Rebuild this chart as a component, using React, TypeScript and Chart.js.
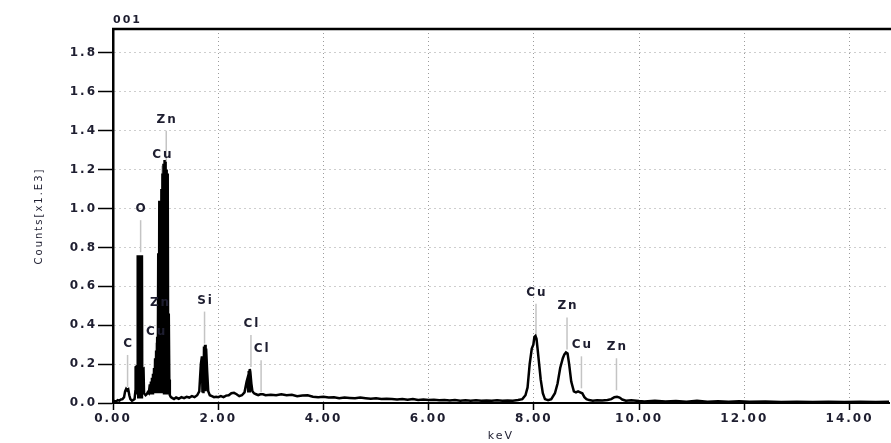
import React, { useEffect, useRef } from 'react';
import { Chart, registerables } from 'chart.js';

Chart.register(...registerables);

// EDS spectrum: energy (keV) vs counts (x1.E3)
const energyKeV = [
  0.00, 0.03, 0.06, 0.09, 0.12, 0.15, 0.18, 0.21, 0.23, 0.25, 0.27, 0.29, 0.31, 0.33, 0.36, 0.38,
  0.41, 0.425, 0.43, 0.455, 0.465, 0.47, 0.48, 0.49, 0.50, 0.51, 0.52, 0.53, 0.54, 0.55, 0.555, 0.58, 0.59, 0.62,
  0.64, 0.66, 0.68, 0.70, 0.71, 0.72, 0.73, 0.74, 0.75, 0.76, 0.77, 0.78, 0.79, 0.80, 0.81, 0.82, 0.83, 0.84, 0.85,
  0.86, 0.87, 0.88, 0.89, 0.90, 0.91, 0.92, 0.93, 0.94, 0.95, 0.96, 0.97, 0.98, 0.99, 1.00, 1.01, 1.02, 1.03,
  1.04, 1.05, 1.06, 1.07, 1.08, 1.10, 1.13,
  1.16, 1.20, 1.25, 1.30, 1.35, 1.40, 1.45, 1.50, 1.55, 1.60, 1.64, 1.67, 1.69, 1.70, 1.71, 1.72, 1.73, 1.74,
  1.75, 1.76, 1.77, 1.79, 1.81, 1.84, 1.88, 1.92, 1.96, 2.00, 2.05, 2.10, 2.15, 2.20, 2.25, 2.30, 2.35, 2.40,
  2.45, 2.50, 2.54, 2.56, 2.57, 2.58, 2.59, 2.60, 2.61, 2.63, 2.65, 2.68, 2.72, 2.76, 2.80, 2.85, 2.90,
  3.00, 3.10, 3.20, 3.30, 3.40, 3.50, 3.60, 3.70, 3.80, 3.90, 4.00, 4.10, 4.20, 4.30, 4.40, 4.50, 4.60, 4.70,
  4.80, 4.90, 5.00, 5.10, 5.20, 5.30, 5.40, 5.50, 5.60, 5.70, 5.80, 5.90, 6.00, 6.10, 6.20, 6.30, 6.40, 6.50,
  6.60, 6.70, 6.80, 6.90, 7.00, 7.10, 7.20, 7.30, 7.40, 7.50, 7.60, 7.70, 7.78, 7.84, 7.88, 7.92, 7.96, 7.99,
  8.01, 8.03, 8.05, 8.07, 8.10, 8.13, 8.17, 8.21, 8.27, 8.33, 8.40, 8.45, 8.50, 8.55, 8.58, 8.61, 8.64, 8.67,
  8.71, 8.76, 8.80, 8.84, 8.88, 8.92, 8.96, 9.00, 9.05, 9.12, 9.20, 9.30, 9.40, 9.47, 9.53, 9.58, 9.63, 9.68,
  9.75, 9.85, 10.0, 10.1, 10.3, 10.5, 10.7, 10.9, 11.1, 11.3, 11.5, 11.7, 11.9, 12.1, 12.4, 12.7, 13.0, 13.3,
  13.6, 13.9, 14.2, 14.5, 14.75,
];

const counts = [
  0.005, 0.010, 0.008, 0.015, 0.012, 0.018, 0.020, 0.030, 0.060, 0.072, 0.065, 0.070, 0.040, 0.020, 0.012, 0.015,
  0.020, 0.060, 0.185, 0.190, 0.050, 0.760, 0.030, 0.760, 0.030, 0.760, 0.030, 0.760, 0.030, 0.760, 0.170, 0.175, 0.050, 0.040,
  0.045, 0.055, 0.050, 0.095, 0.050, 0.110, 0.050, 0.130, 0.050, 0.150, 0.050, 0.180, 0.050, 0.230, 0.050, 0.270, 0.050, 0.340, 0.050,
  0.770, 0.050, 1.040, 0.050, 1.040, 0.050, 1.100, 0.050, 1.180, 0.050, 1.230, 0.050, 1.250, 0.050, 1.240, 0.050, 1.200, 0.050,
  1.180, 0.050, 0.460, 0.120, 0.040, 0.030, 0.025,
  0.020, 0.028, 0.022, 0.030, 0.025, 0.032, 0.028, 0.035, 0.030, 0.040, 0.060, 0.200, 0.240, 0.060, 0.230, 0.050, 0.290, 0.060,
  0.300, 0.060, 0.280, 0.160, 0.060, 0.040, 0.035, 0.030, 0.032, 0.030, 0.035, 0.030, 0.038, 0.040, 0.050, 0.052, 0.045, 0.035,
  0.040, 0.055, 0.110, 0.130, 0.060, 0.165, 0.060, 0.175, 0.160, 0.100, 0.060, 0.050, 0.045, 0.040, 0.045, 0.045, 0.040,
  0.042, 0.040, 0.045, 0.040, 0.042, 0.035, 0.038, 0.040, 0.032, 0.030, 0.032, 0.028, 0.030, 0.025, 0.028, 0.026, 0.024, 0.028,
  0.025, 0.022, 0.024, 0.020, 0.022, 0.020, 0.018, 0.020, 0.017, 0.020, 0.016, 0.018, 0.015, 0.017, 0.014, 0.016, 0.013, 0.015,
  0.012, 0.014, 0.012, 0.014, 0.011, 0.013, 0.012, 0.014, 0.011, 0.013, 0.012, 0.015, 0.020, 0.040, 0.080, 0.200, 0.280, 0.300,
  0.340, 0.345, 0.330, 0.280, 0.200, 0.120, 0.050, 0.020, 0.015, 0.020, 0.050, 0.100, 0.180, 0.230, 0.250, 0.260, 0.255, 0.200,
  0.110, 0.060, 0.055, 0.060, 0.055, 0.050, 0.030, 0.020, 0.015, 0.012, 0.014, 0.013, 0.015, 0.020, 0.030, 0.032, 0.028, 0.018,
  0.012, 0.014, 0.010, 0.008, 0.012, 0.008, 0.010, 0.007, 0.011, 0.007, 0.009, 0.006, 0.009, 0.006, 0.008, 0.005, 0.007, 0.005,
  0.006, 0.005, 0.007, 0.005, 0.006,
];

// Peak identification markers
const peakNames = ['C', 'O', 'Cu', 'Zn', 'Cu', 'Zn', 'Si', 'Cl', 'Cl', 'Cu', 'Zn', 'Cu', 'Zn'];
const peakEnergies = [0.277, 0.525, 0.811, 0.884, 0.930, 1.012, 1.740, 2.622, 2.815, 8.040, 8.630, 8.904, 9.570];
const peakMarkTops = [0.247, 0.94, 0.31, 0.46, 1.22, 1.40, 0.47, 0.35, 0.22, 0.51, 0.44, 0.24, 0.23];

const spectrumTitle = '001';
const xAxisTitle = 'keV';
const yAxisTitle = 'Counts[x1.E3]';

const FONT = '"DejaVu Sans", "Liberation Sans", sans-serif';
const TEXT_COLOR = '#1e1e30';

const frameAndLabels = {
  id: 'frameAndLabels',
  beforeDraw(chart: any) {
    chart.ctx.letterSpacing = '2px';
  },
  beforeDatasetsDraw(chart: any) {
    const { ctx, scales } = chart;
    const x = scales.x;
    const y = scales.y;
    ctx.save();
    ctx.strokeStyle = '#c4c4c4';
    ctx.lineWidth = 1.5;
    peakNames.forEach((_, i) => {
      const px = x.getPixelForValue(peakEnergies[i]);
      const top = y.getPixelForValue(peakMarkTops[i]);
      ctx.beginPath();
      ctx.moveTo(px, top);
      ctx.lineTo(px, top + 32);
      ctx.stroke();
    });
    ctx.restore();
  },
  afterDraw(chart: any) {
    const { ctx, chartArea, scales } = chart;
    const x = scales.x;
    const y = scales.y;
    ctx.save();
    // top frame line
    ctx.strokeStyle = '#000';
    ctx.lineWidth = 2.5;
    ctx.beginPath();
    ctx.moveTo(chartArea.left - 1, chartArea.top);
    ctx.lineTo(chartArea.right + 2, chartArea.top);
    ctx.stroke();

    // spectrum title
    ctx.letterSpacing = '2px';
    ctx.fillStyle = TEXT_COLOR;
    ctx.font = `bold 11px ${FONT}`;
    ctx.textAlign = 'left';
    ctx.textBaseline = 'middle';
    ctx.fillText(spectrumTitle, chartArea.left, chartArea.top - 9);

    // element labels
    ctx.letterSpacing = '2px';
    ctx.font = `bold 12px ${FONT}`;
    ctx.textAlign = 'center';
    ctx.textBaseline = 'alphabetic';
    peakNames.forEach((name, i) => {
      const px = x.getPixelForValue(peakEnergies[i]);
      const top = y.getPixelForValue(peakMarkTops[i]);
      ctx.fillText(name, px + 1, top - 8);
    });
    ctx.restore();
  },
};

export default function App() {
  const canvasRef = useRef<HTMLCanvasElement | null>(null);

  useEffect(() => {
    const canvas = canvasRef.current;
    if (!canvas) return;
    const points = energyKeV.map((e, i) => ({ x: e, y: counts[i] }));

    const chart = new Chart(canvas, {
      type: 'line',
      data: {
        datasets: [
          {
            data: points,
            borderColor: '#000',
            borderWidth: 2.5,
            pointRadius: 0,
            tension: 0,
            fill: false,
          },
        ],
      },
      options: {
        responsive: false,
        animation: false,
        layout: { padding: { top: 29, right: 2, left: 0, bottom: 0 } },
        plugins: {
          legend: { display: false },
          tooltip: { enabled: false },
        },
        scales: {
          x: {
            type: 'linear',
            min: 0,
            max: 14.75,
            afterFit: (scale: any) => {
              scale.height = 40;
            },
            ticks: {
              stepSize: 2,
              includeBounds: false,
              autoSkip: false,
              maxRotation: 0,
              padding: 2,
              color: TEXT_COLOR,
              font: { family: FONT, size: 12, weight: 'bold' },
              callback: (v: any) => Number(v).toFixed(2),
            },
            grid: {
              color: '#9c9c9c',
              lineWidth: 1,
              tickLength: 7,
              tickColor: '#000',
              tickWidth: 1.5,
            },
            border: { display: true, color: '#000', width: 2, dash: [1, 3] },
            title: {
              display: true,
              text: xAxisTitle,
              color: TEXT_COLOR,
              font: { family: FONT, size: 11 },
              padding: { top: 0, bottom: 0 },
            },
          },
          y: {
            type: 'linear',
            min: 0,
            max: 1.923,
            afterFit: (scale: any) => {
              scale.width = 113;
            },
            ticks: {
              stepSize: 0.2,
              includeBounds: false,
              padding: 1,
              color: TEXT_COLOR,
              font: { family: FONT, size: 12, weight: 'bold' },
              callback: (v: any) => Number(v).toFixed(1),
            },
            grid: {
              color: '#9c9c9c',
              lineWidth: 1,
              tickLength: 15,
              tickColor: '#000',
              tickWidth: 1.5,
            },
            border: { display: true, color: '#000', width: 2.5, dash: [1, 4] },
            title: {
              display: true,
              text: yAxisTitle,
              color: TEXT_COLOR,
              font: { family: FONT, size: 10 },
              padding: { top: 33, bottom: 0 },
            },
          },
        },
      },
      plugins: [frameAndLabels],
    } as any);

    return () => chart.destroy();
  }, []);

  return (
    <div style={{ position: 'absolute', left: 0, top: 0, width: 891, height: 443, background: '#fff' }}>
      <canvas ref={canvasRef} width={891} height={443} style={{ display: 'block' }} />
    </div>
  );
}
